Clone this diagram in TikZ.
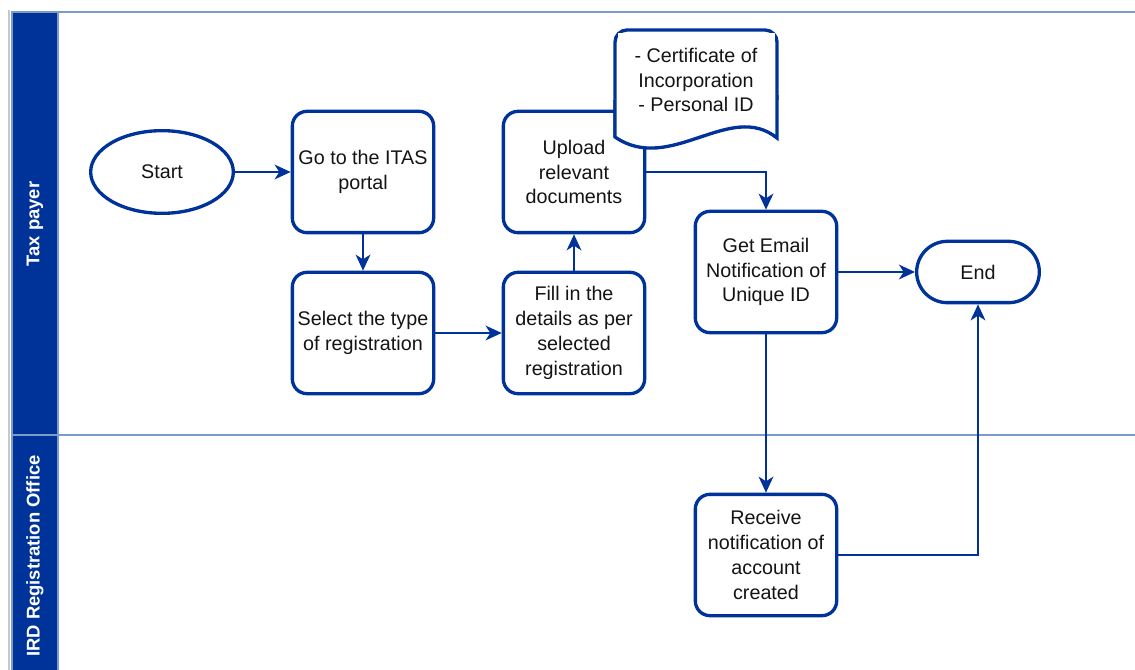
\documentclass[tikz,border=0pt]{standalone}
\usepackage{fontspec}
\setmainfont{Liberation Sans}
\usepackage{tikz}
\usetikzlibrary{shapes.geometric, arrows.meta, positioning}
\definecolor{irdblue}{RGB}{0,51,153}
\definecolor{lanebdr}{RGB}{125,155,200}
\definecolor{pagegray}{RGB}{200,200,200}
\definecolor{txtdark}{RGB}{20,20,20}
\tikzset{
  block/.style={rectangle, draw=irdblue, fill=white, align=center,
    minimum width=106pt, minimum height=91pt, inner sep=2pt,
    rounded corners=11pt, line width=2.5pt, text=txtdark,
    font=\fontsize{14.8}{18.6}\selectfont},
  startnode/.style={ellipse, draw=irdblue, fill=white, inner sep=0pt,
    minimum width=107pt, minimum height=62pt, line width=2.5pt,
    text=txtdark, font=\fontsize{14.8}{18.6}\selectfont},
  endnode/.style={rectangle, draw=irdblue, fill=white, inner sep=0pt,
    minimum width=92pt, minimum height=46pt, rounded corners=23pt,
    line width=2.5pt, text=txtdark, font=\fontsize{14.8}{18.6}\selectfont},
  lanetitle/.style={rotate=90, text=white, font=\bfseries\fontsize{13.8}{16}\selectfont},
  arrow/.style={-{Stealth[length=12pt, width=11pt, inset=3.5pt]}, line width=1.8pt, color=irdblue},
  line/.style={line width=1.8pt, color=irdblue}
}

\begin{document}
\begin{tikzpicture}[x=0.75pt, y=-0.75pt]
  \useasboundingbox (0,0) rectangle (1135,670);

  % Lanes
  \draw[pagegray, line width=1pt] (9,10) -- (9,670);
  \fill[irdblue] (12,12) rectangle (58,675);
  \draw[lanebdr, line width=1.6pt] (1135,12) -- (12,12) -- (12,675);
  \draw[lanebdr, line width=1.6pt] (58,12) -- (58,675);
  \draw[lanebdr, line width=1.6pt] (12,435) -- (1135,435);
  \node[lanetitle] (lanetax) at (35,224) {Tax payer};
  \node[lanetitle] (laneird) at (35,556) {IRD Registration Office};

  % Blocks
  \node[startnode] (start) at (162,172) {Start};
  \node[block] (portal) at (363,172) {Go to the ITAS\\portal};
  \node[block] (select) at (363,333) {Select the type\\of registration};
  \node[block] (fill) at (574,333) {Fill in the\\details as per\\selected\\registration};
  \node[block] (upload) at (574,172) {Upload\\relevant\\documents};
  \node[block] (email) at (766,272) {Get Email\\Notification of\\Unique ID};
  \node[endnode] (end) at (978,272) {End};
  \node[block] (receive) at (766,555) {Receive\\notification of\\account\\created};

  % Documents note
  \draw[irdblue, fill=white, line width=2.5pt, rounded corners=9pt]
    (615,137) -- (615,30) -- (777,30) -- (777,100);
  \draw[irdblue, fill=white, line width=2.5pt]
    (777,95) -- (777,138)
    .. controls (730,100) and (670,175) .. (615,137) -- (615,100);
  \fill[white] (617.5,33) rectangle (774.5,120);
  \node[align=center, text=txtdark, font=\fontsize{14.8}{18.6}\selectfont] (docs) at (696,80)
    {- Certificate of\\Incorporation\\- Personal ID};

  % Connections
  \draw[arrow] (start) -- (portal);
  \draw[arrow] (portal) -- (select);
  \draw[arrow] (select) -- (fill);
  \draw[arrow] (fill) -- (upload);
  \draw[arrow] (upload.east) -| (email.north);
  \draw[arrow] (email) -- (end);
  \draw[arrow] (email) -- (receive);
  \draw[arrow] (receive.east) -| (end.south);
\end{tikzpicture}
\end{document}
